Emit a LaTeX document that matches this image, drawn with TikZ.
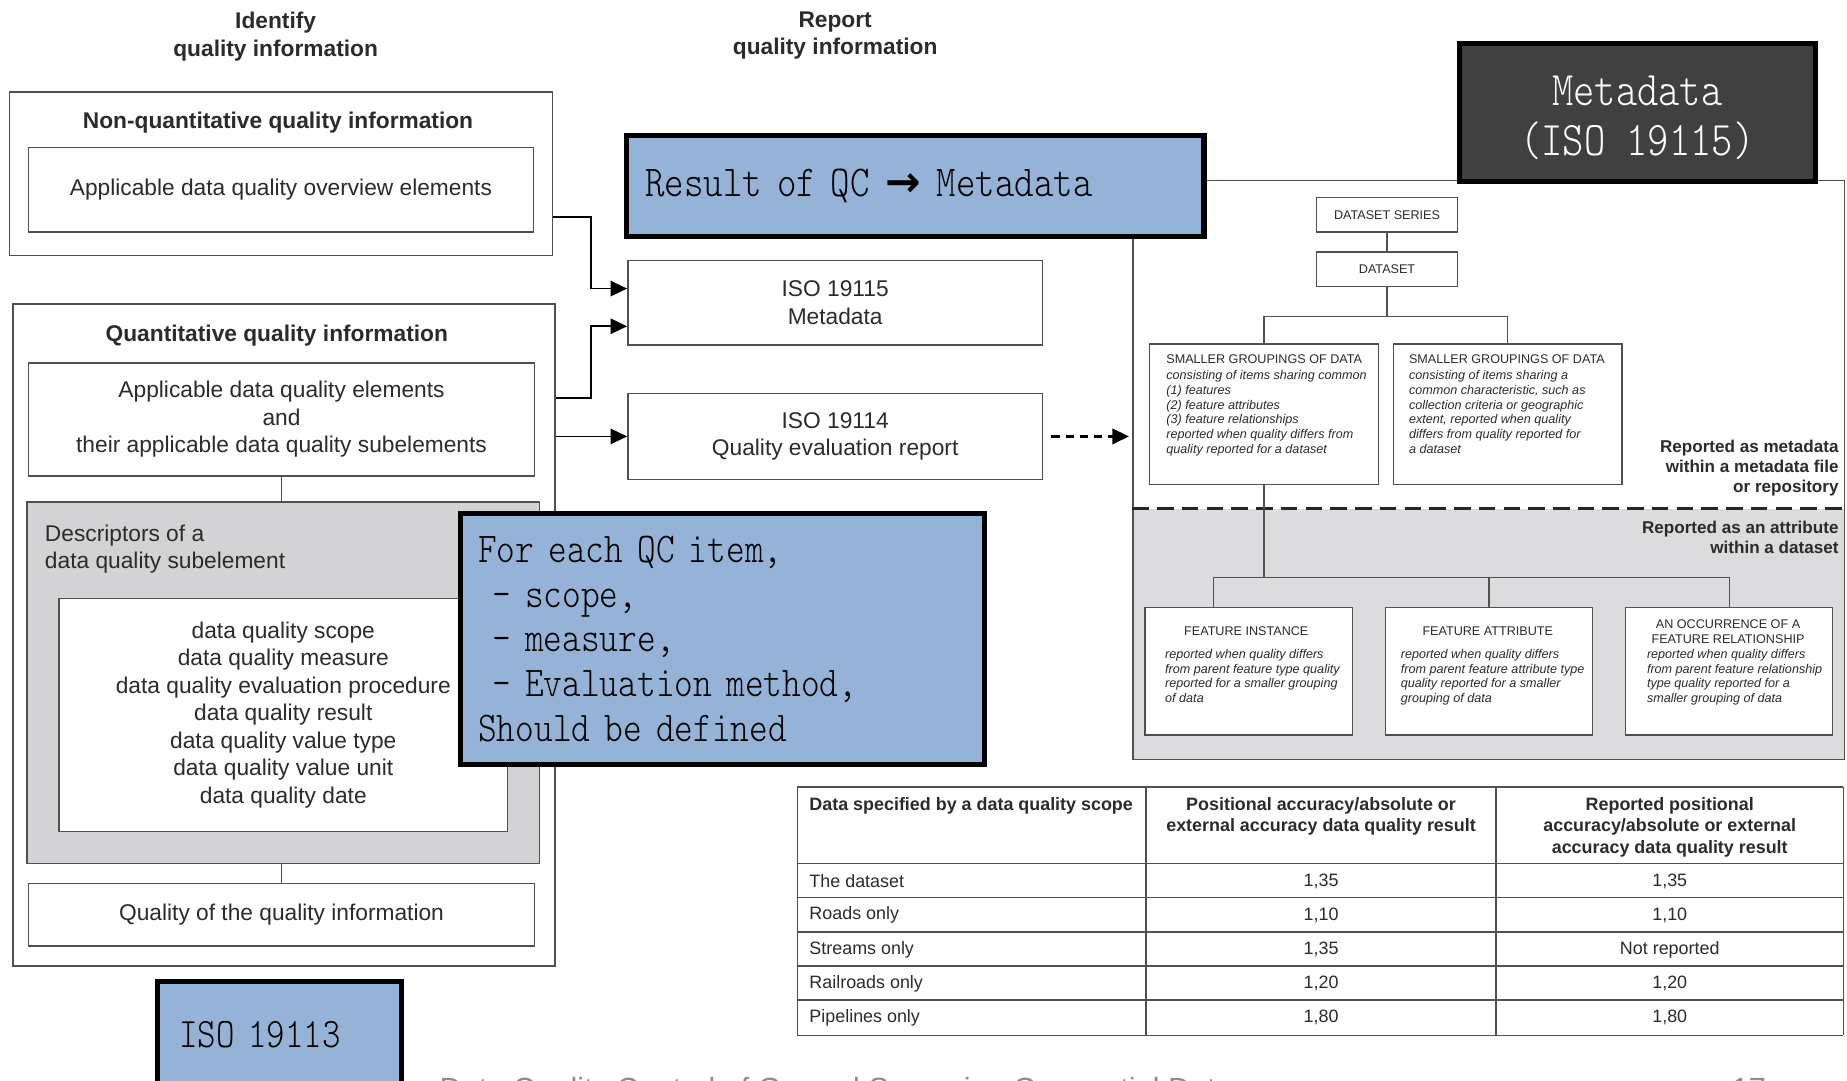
\documentclass[tikz,border=0pt]{standalone}
\usepackage{fontspec}
\setmainfont{Liberation Sans}
\newfontfamily\qcfont{lmmonolt10-regular}[Extension=.otf, FakeStretch=0.84]
\newfontfamily\tipfont{DejaVu Sans}
\usetikzlibrary{arrows.meta}

\definecolor{qcblue}{HTML}{95B3D7}
\definecolor{mdgrey}{HTML}{404040}
\definecolor{descgrey}{HTML}{D3D3D5}
\definecolor{attrgrey}{HTML}{DCDCDE}
\definecolor{linegrey}{HTML}{505050}
\definecolor{textgrey}{HTML}{2B2B2B}

\newcommand{\isofont}{\fontsize{19.3}{23.3}\selectfont}
\newcommand{\treefont}{\fontsize{10.7}{12.4}\selectfont}
\newcommand{\tabfont}{\fontsize{15.2}{18}\selectfont}
\newcommand{\sidefont}{\fontsize{14.5}{17}\selectfont\bfseries}

\begin{document}
\begin{tikzpicture}[
      x=1pt, y=-1pt,
      box/.style={draw=linegrey, line width=1.2pt, fill=white, inner sep=0pt, align=center, text=textgrey, font=\isofont},
      head/.style={font=\isofont\bfseries, text=textgrey, align=center, inner sep=0pt},
      qcbox/.style={draw=black, line width=4.5pt, fill=qcblue, align=left, text=black, inner ysep=0pt},
      treebox/.style={draw=linegrey, line width=1pt, fill=white, inner sep=0pt, text=textgrey, font=\treefont},
      treetext/.style={font=\treefont, text=textgrey, align=left, inner sep=0pt},
      sidetext/.style={font=\sidefont, text=textgrey, align=right, inner sep=0pt},
      tabtext/.style={font=\tabfont, text=textgrey, inner sep=0pt},
      link/.style={draw=linegrey, line width=1.2pt},
      tabline/.style={draw=linegrey, line width=1.3pt},
      flow/.style={draw=black, line width=1.4pt, -{Triangle[length=14pt,width=13pt]}},
      dflow/.style={flow, line width=2pt, dash pattern=on 7pt off 5pt, shorten >=3pt}
      ]
      \useasboundingbox (0,0) rectangle (1568,917);

      % column headings
      \node[head] (idhead) at (234,31) {Identify\\quality information};
      \node[head] (rephead) at (709,30) {Report\\quality information};

      % non-quantitative part
      \node[box, minimum width=461, minimum height=139] (nonquant) at (238.5,147.5) {};
      \node[head] (nqtitle) at (236,104) {Non-quantitative quality information};
      \node[box, minimum width=429, minimum height=72] (overview) at (238.5,161) {Applicable data quality overview elements};

      % quantitative part, with the descriptors inside it
      \node[box, minimum width=460, minimum height=562] (quant) at (241,539) {};
      \node[head] (qtitle) at (235,285) {Quantitative quality information};
      \node[box, minimum width=430, minimum height=96] (elements) at (239,356) {Applicable data quality elements\\and\\their applicable data quality subelements};
      \node[box, fill=descgrey, minimum width=435, minimum height=307] (descr) at (240.5,579.5) {};
      \node[anchor=west, align=left, font=\isofont, text=textgrey, inner sep=0pt] (descrlabel) at (38,466) {Descriptors of a\\data quality subelement};
      \node[box, minimum width=381, minimum height=198] (desclist) at (240.5,607) {data quality scope\\data quality measure\\data quality evaluation procedure\\data quality result\\data quality value type\\data quality value unit\\data quality date};
      \node[box, minimum width=430, minimum height=53] (qqinfo) at (239,776.5) {Quality of the quality information};
      \draw[link] (elements.south) -- (elements.south |- descr.north);
      \draw[link] (qqinfo.north) -- (qqinfo.north |- descr.south);

      \node[qcbox, font=\qcfont\fontsize{35.6}{40}\selectfont, minimum width=207, minimum height=90, text width=171, inner xsep=18pt] (iso19113) at (237.5,878) {ISO 19113};

      % the two reports
      \node[box, minimum width=352, minimum height=72] (iso19115) at (709,257) {ISO 19115\\Metadata};
      \node[box, minimum width=352, minimum height=73] (iso19114) at (709,370.5) {ISO 19114\\Quality evaluation report};

      \draw[flow] ([yshift=-36.5pt]nonquant.east) -- ++(32,0) |- ([yshift=12pt]iso19115.west);
      \draw[flow] ([yshift=201pt]quant.east) -- ++(30,0) |- ([yshift=-20pt]iso19115.west);
      \draw[flow] (quant.east |- iso19114.west) -- (iso19114.west);

      % metadata frame: white upper half, grey lower half
      \fill[attrgrey] (962,432) rectangle (1566,645);
      \node[draw=linegrey, line width=1.2pt, minimum width=604, minimum height=492, inner sep=0pt] (mdframe) at (1264,399) {};
      \draw[draw=black!85, line width=2.6pt, dash pattern=on 14pt off 7pt] (mdframe.west |- 0,432) -- (mdframe.east |- 0,432);
      \draw[dflow] ([xshift=7pt]iso19114.east) -- (iso19114.east -| mdframe.west);

      \node[draw=black, line width=4.5pt, fill=mdgrey, minimum width=302, minimum height=117] (mdtitle) at (1390,95.5) {};
      \node[text=white, align=center, inner sep=0pt, font=\qcfont\fontsize{41}{42}\selectfont] (mdtitletxt) at (1390,100) {Metadata\\(ISO 19115)};

      % hierarchy of the metadata levels
      \node[treebox, minimum width=120, minimum height=29] (dsseries) at (1177.5,182.5) {DATASET SERIES};
      \node[treebox, minimum width=120, minimum height=29] (dataset) at (1177.5,228.5) {DATASET};
      \node[treebox, minimum width=194, minimum height=119] (sgfeat) at (1073,351.5) {};
      \node[treebox, minimum width=194, minimum height=119] (sgchar) at (1280,351.5) {};
      \node[treetext, anchor=north west] (sgfeattxt) at (990,301) {SMALLER GROUPINGS OF DATA\\[1.5pt]\textit{consisting of items sharing common}\\\textit{(1) features}\\\textit{(2) feature attributes}\\\textit{(3) feature relationships}\\\textit{reported when quality differs from}\\\textit{quality reported for a dataset}};
      \node[treetext, anchor=north west] (sgchartxt) at (1196,301) {SMALLER GROUPINGS OF DATA\\[1.5pt]\textit{consisting of items sharing a}\\\textit{common characteristic, such as}\\\textit{collection criteria or geographic}\\\textit{extent, reported when quality}\\\textit{differs from quality reported for}\\\textit{a dataset}};
      \draw[link] (dsseries.south) -- (dataset.north);
      \draw[link] (dataset.south) -- ++(0,25) coordinate (sgfork);
      \draw[link] (sgfeat.north) |- (sgfork) -| (sgchar.north);

      \node[sidetext, anchor=east] (repmeta) at (1561,397) {Reported as metadata\\within a metadata file\\or repository};
      \node[sidetext, anchor=east] (repattr) at (1561,456.5) {Reported as an attribute\\within a dataset};

      \node[treebox, minimum width=176, minimum height=108] (featinst) at (1060,570) {};
      \node[treebox, minimum width=176, minimum height=108] (featattr) at (1264,570) {};
      \node[treebox, minimum width=176, minimum height=108] (featrel) at (1468,570) {};
      \node[treetext, align=center] (featinsthd) at (1058,536) {FEATURE INSTANCE};
      \node[treetext, align=center] (featattrhd) at (1263,536) {FEATURE ATTRIBUTE};
      \node[treetext, align=center] (featrelhd) at (1467,536) {AN OCCURRENCE OF A\\FEATURE RELATIONSHIP};
      \node[treetext, anchor=north west, font=\treefont\itshape] (featinstbody) at (989,551) {reported when quality differs\\from parent feature type quality\\reported for a smaller grouping\\of data};
      \node[treetext, anchor=north west, font=\treefont\itshape] (featattrbody) at (1189,551) {reported when quality differs\\from parent feature attribute type\\quality reported for a smaller\\grouping of data};
      \node[treetext, anchor=north west, font=\treefont\itshape] (featrelbody) at (1398,551) {reported when quality differs\\from parent feature relationship\\type quality reported for a\\smaller grouping of data};
      \draw[link] (sgfeat.south) -- ++(0,79) coordinate (featfork);
      \draw[link] ([xshift=-30pt]featinst.north) |- (featfork) -| (featrel.north);
      \draw[link] (featattr.north) -- (featattr.north |- featfork);

      % result of QC and what has to be defined
      \node[qcbox, font=\qcfont\fontsize{37.5}{40}\selectfont, minimum width=490, minimum height=86, text width=458, inner xsep=16pt] (qcresult) at (777,158) {Result of QC \makebox[32pt]{\tipfont\bfseries\fontsize{36}{36}\selectfont →} Metadata};
      \node[qcbox, font=\qcfont\fontsize{36}{38}\selectfont, minimum width=445, minimum height=213, text width=415, inner xsep=15pt] (qcitems) at (613.5,542.5) {For each QC item,\\~– scope,\\~– measure,\\~– Evaluation method,\\Should be defined};

      % example table
      \foreach \y in {668,733,762,791,820,849,879}
        \draw[tabline] (677,\y) -- (1565,\y);
      \foreach \x in {677,973,1270,1565}
        \draw[tabline] (\x,668) -- (\x,879);
      \node[tabtext, font=\tabfont\bfseries, anchor=north west] (hscope) at (687,677) {Data specified by a data quality scope};
      \node[tabtext, font=\tabfont\bfseries, align=center, anchor=north] (hresult) at (1121.5,677) {Positional accuracy/absolute or\\external accuracy data quality result};
      \node[tabtext, font=\tabfont\bfseries, align=center, anchor=north] (hreported) at (1417.5,677) {Reported positional\\accuracy/absolute or external\\accuracy data quality result};
      \foreach \dname/\dres/\drep [count=\i] in {The dataset/{1,35}/{1,35}, Roads only/{1,10}/{1,10}, Streams only/{1,35}/Not reported, Railroads only/{1,20}/{1,20}, Pipelines only/{1,80}/{1,80}}
      {
        \node[tabtext, anchor=west] (dname\i) at (687,{719+29*\i}) {\dname};
        \node[tabtext] (dres\i) at (1121.5,{719+29*\i}) {\dres};
        \node[tabtext] (drep\i) at (1417.5,{719+29*\i}) {\drep};
      }

      % slide footer, cut by the lower edge
      \node[anchor=base west, font=\fontsize{26}{30}\selectfont, text=black!45, inner sep=0pt] (footer) at (373,933) {Data Quality Control of Ground Surveying Geospatial Data};
      \node[anchor=base west, font=\fontsize{26}{30}\selectfont, text=black!45, inner sep=0pt] (pageno) at (1470,933) {17};
    \end{tikzpicture}
\end{document}
